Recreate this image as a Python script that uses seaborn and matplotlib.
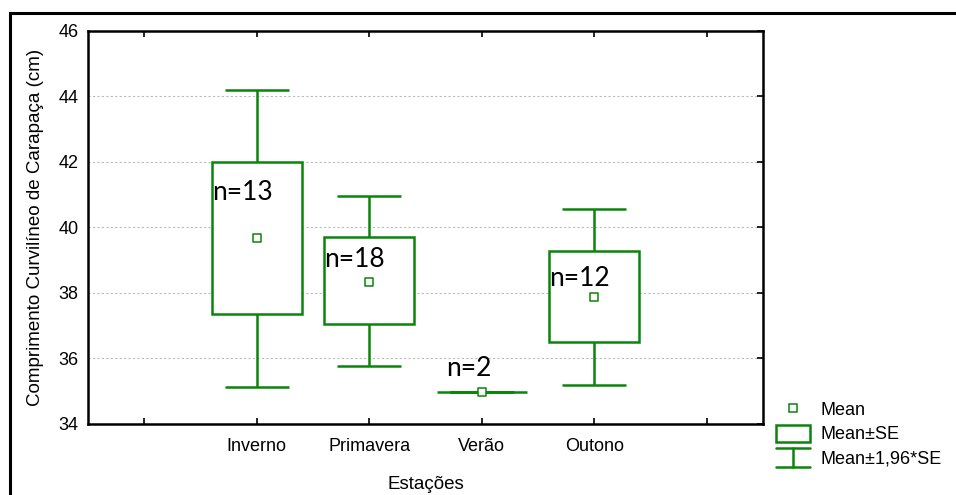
import matplotlib
matplotlib.use("Agg")
import matplotlib.pyplot as plt
import seaborn as sns
import numpy as np
import pandas as pd
from matplotlib.patches import Rectangle
from matplotlib.lines import Line2D
from matplotlib.legend_handler import HandlerBase

# ---- data ----
categories = ["", "Inverno", "Primavera", "Verão", "Outono", ""]
seasons = ["Inverno", "Primavera", "Verão", "Outono"]
means = [39.68, 38.35, 34.98, 37.88]
se_low = [37.36, 37.05, 34.98, 36.50]
se_high = [42.00, 39.70, 34.98, 39.27]
ci_low = [35.13, 35.78, 34.98, 35.19]
ci_high = [44.20, 40.97, 34.98, 40.58]
n_labels = ["n=13", "n=18", "n=2", "n=12"]
n_label_y = [40.85, 38.78, 35.48, 38.20]

GREEN = "#0a850a"

sns.set_style("white")
plt.rcParams["font.family"] = ["Liberation Sans", "DejaVu Sans"]
plt.rcParams.update({"text.color": "black", "axes.labelcolor": "black",
                     "xtick.color": "black", "ytick.color": "black"})

fig = plt.figure(figsize=(9.56, 4.95), dpi=100)
ax = fig.add_axes([88/956, 1-424/495, (763-88)/956, (424-31)/495])

pos = np.arange(1, len(seasons) + 1)
box_w = 0.8
cap_w = 0.57

# boxes (mean ± SE)
ax.bar(pos, np.array(se_high) - np.array(se_low), bottom=se_low, width=box_w,
       facecolor="white", edgecolor=GREEN, linewidth=1.8, zorder=3)
# whiskers (mean ± 1.96 SE)
ax.vlines(pos, se_high, ci_high, color=GREEN, linewidth=1.8, zorder=2)
ax.vlines(pos, ci_low, se_low, color=GREEN, linewidth=1.8, zorder=2)
ax.hlines(ci_high, pos - cap_w/2, pos + cap_w/2, color=GREEN, linewidth=1.8, zorder=2)
ax.hlines(ci_low, pos - cap_w/2, pos + cap_w/2, color=GREEN, linewidth=1.8, zorder=2)

# means
df = pd.DataFrame({"x": pos, "mean": means})
sns.scatterplot(data=df, x="x", y="mean", marker="s", s=30, facecolor="white",
                edgecolor=GREEN, linewidth=1.1, zorder=5, ax=ax, legend=False)

# n labels
for p, lab, yy in zip(pos, n_labels, n_label_y):
    xx = p - box_w/2 + (0.08 if lab == "n=2" else 0.0)
    ax.text(xx, yy, lab, fontsize=19, family=["Lato", "DejaVu Sans"],
            ha="left", va="baseline", color="black", zorder=6)

ax.set_xlim(-0.5, 5.5)
ax.set_ylim(34, 46)
ax.set_xticks(range(len(categories)))
ax.set_xticklabels(categories, fontsize=13)
ax.set_yticks(np.arange(34, 47, 2))
ax.set_yticklabels([str(v) for v in range(34, 47, 2)], fontsize=13)
ax.yaxis.grid(True, color="#bbbbbb", linestyle=(0, (2, 2)), linewidth=0.8)
ax.set_axisbelow(True)
ax.tick_params(axis="x", direction="in", length=4, width=1.2, top=True, bottom=True, pad=10)
ax.tick_params(axis="y", direction="in", length=4, width=1.2, left=False, right=True, pad=7)
for s in ax.spines.values():
    s.set_color("black")
    s.set_linewidth(1.8)
ax.set_xlabel("Estações", fontsize=13.5, labelpad=15)
ax.set_ylabel("Comprimento Curvilíneo de Carapaça (cm)", fontsize=13.5, labelpad=10)


# legend
class WhiskerHandler(HandlerBase):
    def create_artists(self, legend, orig_handle, xdescent, ydescent, width, height, fontsize, trans):
        x0, x1 = -xdescent, -xdescent + width
        y0, y1 = -ydescent - 0.05*height, -ydescent + 1.05*height
        xm = (x0 + x1) / 2
        kw = dict(color=GREEN, linewidth=1.8, transform=trans)
        return [Line2D([x0, x1], [y0, y0], **kw), Line2D([x0, x1], [y1, y1], **kw),
                Line2D([xm, xm], [y0, y1], **kw)]


class BoxHandler(HandlerBase):
    def create_artists(self, legend, orig_handle, xdescent, ydescent, width, height, fontsize, trans):
        r = Rectangle((-xdescent, -ydescent), width, height, facecolor="white",
                      edgecolor=GREEN, linewidth=1.8, transform=trans)
        return [r]


mean_h = Line2D([], [], marker="s", linestyle="none", markersize=5.5,
                markerfacecolor="white", markeredgecolor=GREEN, markeredgewidth=1.1)
box_h = Rectangle((0, 0), 1, 1)
wh_h = Line2D([], [])
fig.legend([mean_h, box_h, wh_h], ["Mean", "Mean±SE", "Mean±1,96*SE"],
           handler_map={Rectangle: BoxHandler(), wh_h: WhiskerHandler()},
           loc="center left", bbox_to_anchor=(776/956, 1-434/495), frameon=False,
           fontsize=13, handlelength=1.9, handleheight=1.1, labelspacing=0.3,
           handletextpad=0.55, borderaxespad=0, borderpad=0)

# outer frame
fig.patches.append(Rectangle((10/956, -0.05), 1.2, 1-13/495+0.05, transform=fig.transFigure,
                             fill=False, edgecolor="black", linewidth=2.2))

fig.savefig("out.png", dpi=100)
